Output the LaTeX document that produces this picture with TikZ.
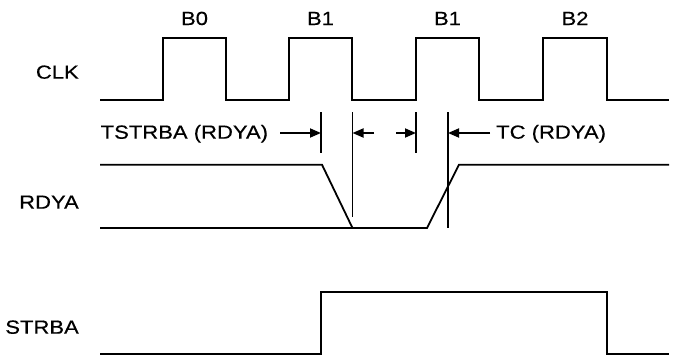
\documentclass[tikz,border=0pt]{standalone}
\usepackage{fontspec}
\setmainfont[FakeStretch=1.16,FakeBold=0.4]{Liberation Sans}
\usetikzlibrary{arrows.meta}
\begin{document}
\begin{tikzpicture}[x=1pt,y=-1pt,
  wave/.style={line width=1.8pt, line join=miter},
  tick/.style={line width=1.8pt},
  arr/.style={line width=1.8pt, -{Triangle[length=11pt,width=9pt]}},
  lbl/.style={inner sep=0pt, font=\fontsize{19}{21}\selectfont},
  sig/.style={lbl, anchor=base east},
  top/.style={lbl, anchor=base}]
\useasboundingbox (0,0) rectangle (678,356);
% signal names
\node[sig] (clk) at (79,78.7) {CLK};
\node[sig] (rdya) at (79,208.7) {RDYA};
\node[sig] (strba) at (79,333.7) {STRBA};
% cycle labels
\node[top] (b0) at (194.5,25) {B0};
\node[top] (b1a) at (320.5,25) {B1};
\node[top] (b1b) at (447.5,25) {B1};
\node[top] (b2) at (575,25) {B2};
% CLK
\draw[wave] (100,100) -- (163,100) -- (163,38) -- (226,38) -- (226,100)
  -- (289,100) -- (289,38) -- (352,38) -- (352,100)
  -- (416,100) -- (416,38) -- (479,38) -- (479,100)
  -- (543,100) -- (543,38) -- (607,38) -- (607,100) -- (669,100);
% RDYA
\draw[wave] (100,164.7) -- (322,164.7) -- (352.5,228) -- (100,228);
\draw[wave] (352.5,228) -- (427,228) -- (459,164.7) -- (669,164.7);
% STRBA
\draw[wave] (100,354) -- (321,354) -- (321,291.7) -- (607,291.7) -- (607,354) -- (669,354);
% timing ticks
\coordinate (t1a) at (321,112); \coordinate (t1b) at (321,153); \coordinate (t1m) at (321,133);
\coordinate (t2a) at (352.5,112); \coordinate (t2b) at (352.5,217); \coordinate (t2m) at (352.5,133);
\coordinate (t3a) at (416,112); \coordinate (t3b) at (416,153); \coordinate (t3m) at (416,133);
\coordinate (t4a) at (448,112); \coordinate (t4b) at (448,228); \coordinate (t4m) at (448,133);
\draw[tick] (t1a) -- (t1b);
\draw[tick] (t2a) -- (t2b);
\draw[tick] (t3a) -- (t3b);
\draw[tick] (t4a) -- (t4b);
% dimension labels and arrows
\node[lbl, anchor=base west] (ts) at (100.5,138.7) {TSTRBA (RDYA)};
\node[lbl, anchor=base west] (tc) at (496,138.7) {TC (RDYA)};
\coordinate (a1) at (280,133);
\coordinate (a2) at (374,133);
\coordinate (a3) at (396,133);
\coordinate (a4) at (490,133);
\draw[arr] (a1) -- (t1m);
\draw[arr] (a2) -- (t2m);
\draw[arr] (a3) -- (t3m);
\draw[arr] (a4) -- (t4m);
\end{tikzpicture}
\end{document}
